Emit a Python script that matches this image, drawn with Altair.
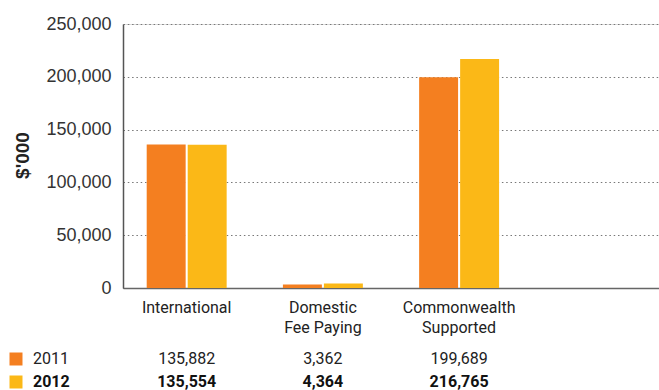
import altair as alt
import pandas as pd

categories = ["International", "Domestic|Fee Paying", "Commonwealth|Supported"]
years = ["2011", "2012"]
values_2011 = [135882, 3362, 199689]
values_2012 = [135554, 4364, 216765]
y_ticks = [0, 50000, 100000, 150000, 200000, 250000]

domain_x = categories + [" "]
colors = ["#F47F20", "#FBB817"]

rows = []
for c, v1, v2 in zip(categories, values_2011, values_2012):
    rows.append({"cat": c, "year": "2011", "value": v1})
    rows.append({"cat": c, "year": "2012", "value": v2})
df = pd.DataFrame(rows)
leg = pd.DataFrame({"year": years})

FONT = "Roboto"
W, H = 536, 264
ROW_Y = {"2011": 335, "2012": 358}
STYLE = {"2011": ("normal", "#222"), "2012": ("bold", "#111")}

xscale = alt.Scale(domain=domain_x, paddingInner=0.413, paddingOuter=0.174)

bars = alt.Chart(df).mark_bar().encode(
    x=alt.X("cat:N", scale=xscale, sort=domain_x,
            axis=alt.Axis(title=None, labelExpr="split(datum.label, '|')",
                          labelFont=FONT, labelFontSize=16, labelLineHeight=20,
                          labelColor="#222", labelAngle=0, ticks=False,
                          labelPadding=11, domainColor="#666", domainWidth=1.5,
                          grid=False)),
    xOffset=alt.XOffset("year:N", scale=alt.Scale(paddingInner=0.05)),
    y=alt.Y("value:Q", scale=alt.Scale(domain=[0, 250000]),
            axis=alt.Axis(values=y_ticks, format=",.0f", title="$'000",
                          labelFont="Liberation Sans", labelFontSize=18,
                          labelColor="#333", ticks=False, labelPadding=12,
                          domainColor="#555", domainWidth=1.5,
                          gridDash=[1.5, 2.8], gridColor="#777", gridWidth=1.2,
                          titleFont="Liberation Sans", titleFontSize=19,
                          titleFontWeight="bold", titleColor="#222",
                          titleX=-101, titleY=131, titleAngle=-90,
                          titleAlign="center", titleBaseline="middle")),
    color=alt.Color("year:N", scale=alt.Scale(domain=years, range=colors), legend=None),
)

layers = [bars]
for i, yr in enumerate(years):
    weight, col = STYLE[yr]
    layers.append(
        alt.Chart(df).transform_filter(f"datum.year == '{yr}'").mark_text(
            font=FONT, fontSize=16, fontWeight=weight, color=col, baseline="middle"
        ).encode(
            x=alt.X("cat:N", scale=xscale, sort=domain_x),
            y=alt.value(ROW_Y[yr]),
            text=alt.Text("value:Q", format=","),
        )
    )
    layers.append(
        alt.Chart(leg).transform_filter(f"datum.year == '{yr}'").mark_square(
            size=169, opacity=1, color=colors[i]
        ).encode(x=alt.value(-107), y=alt.value(ROW_Y[yr]))
    )
    layers.append(
        alt.Chart(leg).transform_filter(f"datum.year == '{yr}'").mark_text(
            font=FONT, fontSize=16, fontWeight=weight, align="left",
            baseline="middle", color=col
        ).encode(x=alt.value(-90), y=alt.value(ROW_Y[yr]), text="year:N")
    )

chart = alt.layer(*layers).properties(
    width=W, height=H,
    autosize=alt.AutoSizeParams(type="none"),
    padding={"left": 123, "top": 24, "right": 0, "bottom": 102},
).configure_view(stroke=None).configure(background="white")

chart.save("out.html", embed_options={"renderer": "svg", "actions": False})
